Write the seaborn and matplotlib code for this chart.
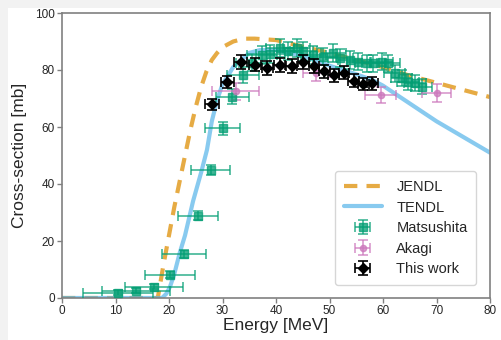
import numpy as np
import pandas as pd
import matplotlib
matplotlib.use("Agg")
import matplotlib.pyplot as plt
import seaborn as sns
from matplotlib.patches import Rectangle

# ---------------- data ----------------
jendl_e = [0, 17.9, 19, 21, 23, 24, 25, 26, 27, 28, 29, 30, 32, 34, 36, 40, 45, 50, 55, 60, 65, 70, 75, 80]
jendl_s = [0, 0, 12, 32, 50, 59, 67, 74, 79.5, 83.5, 86, 88, 90, 91, 91, 90.5, 88.2, 86, 83.5, 81, 78, 75.5, 73, 70.5]

tendl_e = [0, 18.7, 19.5, 20.2, 21, 22, 23, 24.5, 26, 27.1, 28, 29, 30, 32, 35, 37, 40, 45, 50, 55, 58, 60, 70, 80]
tendl_s = [0, 0, 1.5, 4, 8.5, 15.8, 22, 34, 44, 52, 62, 69.5, 75, 81, 86, 87, 87, 85, 81.5, 78.5, 76.5, 74.5, 62, 51]

mat_e = [10.5, 13.8, 17.2, 20.2, 22.8, 25.4, 27.8, 30.0, 31.8, 33.9, 35.5, 37.3, 38.9, 40.7, 42.3,
         43.9, 45.1, 47.0, 48.8, 50.7, 52.0, 53.8, 55.4, 57.0, 58.2, 59.8, 61.0, 62.2, 63.5, 64.7,
         66.0, 67.2]
mat_s = [1.9, 2.6, 4.0, 8.1, 15.4, 28.9, 44.9, 59.5, 70.6, 78.3, 82.6, 85.3, 85.6, 87.6, 86.8,
         87.6, 86.5, 85.3, 84.7, 85.9, 84.1, 83.5, 82.9, 82.3, 82.3, 82.9, 82.3, 78.8, 77.1, 75.9,
         75.4, 74.2]
mat_xerr = [6.6, 6.3, 5.4, 4.6, 4.1, 3.8, 3.6, 3.3, 3.1, 3.0, 2.9, 2.8, 2.7, 2.6, 2.6,
            2.5, 2.5, 2.4, 2.4, 2.3, 2.3, 2.2, 2.2, 2.2, 2.1, 2.1, 2.1, 2.0, 2.0, 2.0,
            2.0, 2.0]
mat_yerr = [1.0, 1.0, 1.0, 1.2, 1.5, 1.6, 1.8, 2.2, 2.6, 2.9, 3.0, 3.1, 3.1, 3.2, 3.2,
            3.2, 3.2, 3.1, 3.1, 3.1, 3.1, 3.0, 3.0, 3.0, 3.0, 3.0, 3.0, 2.9, 2.8, 2.8,
            2.8, 2.7]

aka_e = [32.5, 47.5, 59.6, 70.0]
aka_s = [72.5, 79.0, 71.2, 71.8]
aka_xerr = [4.4, 2.5, 2.9, 2.7]
aka_yerr = [3.0, 3.0, 2.9, 3.2]

tw_e = [28.0, 30.9, 33.4, 36.1, 38.4, 40.7, 42.9, 45.1, 47.1, 49.0, 50.8, 52.7, 54.5, 56.3, 58.0]
tw_s = [67.9, 75.8, 82.8, 81.9, 80.8, 81.8, 81.4, 82.7, 81.5, 79.5, 78.2, 79.1, 76.3, 75.1, 75.3]
tw_xerr = [1.3, 1.2, 1.2, 1.1, 1.1, 1.0, 1.0, 1.0, 1.0, 1.0, 1.0, 1.0, 1.0, 1.0, 1.0]
tw_yerr = [2.0, 2.2, 2.4, 2.4, 2.4, 2.4, 2.4, 2.4, 2.4, 2.3, 2.3, 2.3, 2.2, 2.2, 2.2]

# ---------------- style ----------------
sns.set_style("white")
plt.rcParams['font.family'] = ['Liberation Sans', 'DejaVu Sans']

fig = plt.figure(figsize=(5.02, 3.40), dpi=100, facecolor='white')
# light grey screenshot margins (left and top)
fig.patches.append(Rectangle((0, 0), 8 / 502, 1, transform=fig.transFigure,
                             facecolor='#f2f2f2', edgecolor='none', zorder=-10))
fig.patches.append(Rectangle((0, 1 - 8 / 340), 1, 8 / 340, transform=fig.transFigure,
                             facecolor='#f2f2f2', edgecolor='none', zorder=-10))
ax = fig.add_axes([62 / 502, 1 - 298 / 340, 428 / 502, 285 / 340])

jendl = pd.DataFrame({'E': jendl_e, 's': jendl_s})
tendl = pd.DataFrame({'E': tendl_e, 's': tendl_s})

sns.lineplot(data=jendl, x='E', y='s', ax=ax, color='#de8f05', alpha=0.75, lw=3,
             linestyle=(0, (3.2, 2.2)), label='JENDL', zorder=2)
sns.lineplot(data=tendl, x='E', y='s', ax=ax, color='#56b4e9', alpha=0.7, lw=3,
             label='TENDL', zorder=2)

ax.errorbar(mat_e, mat_s, xerr=mat_xerr, yerr=mat_yerr, fmt='s', color='#029e73',
            ms=6, alpha=0.75, capsize=3.5, elinewidth=1.2, capthick=1.2,
            label='Matsushita', zorder=3)
ax.errorbar(aka_e, aka_s, xerr=aka_xerr, yerr=aka_yerr, fmt='o', color='#cc78bc',
            ms=4.5, alpha=0.75, capsize=3.5, elinewidth=1.2, capthick=1.2,
            label='Akagi', zorder=3)
ax.errorbar(tw_e, tw_s, xerr=tw_xerr, yerr=tw_yerr, fmt='D', color='black',
            ms=5.5, capsize=3.5, elinewidth=1.2, capthick=1.2,
            label='This work', zorder=4)

ax.set_xlim(0, 80)
ax.set_ylim(0, 100)
ax.set_xticks(range(0, 81, 10))
ax.set_yticks(range(0, 101, 20))
ax.set_xlabel('Energy [MeV]', fontsize=12.5, labelpad=1)
ax.set_ylabel('Cross-section [mb]', fontsize=12.5, labelpad=6)
ax.tick_params(axis='both', which='major', labelsize=8.5, direction='out', length=3.5,
               width=1, color='#808080', pad=1.5, bottom=True, left=True)
for sp in ax.spines.values():
    sp.set_color('#808080')
    sp.set_linewidth(1.2)

leg = ax.legend(loc='lower right', fontsize=10.5, frameon=True, fancybox=True,
                borderpad=0.6, labelspacing=0.45, handlelength=2.6, handletextpad=1.0,
                bbox_to_anchor=(0.985, 0.02))
leg.get_frame().set_edgecolor('#cccccc')
leg.get_frame().set_linewidth(1.0)

fig.savefig('out.png', dpi=100, facecolor=fig.get_facecolor())
